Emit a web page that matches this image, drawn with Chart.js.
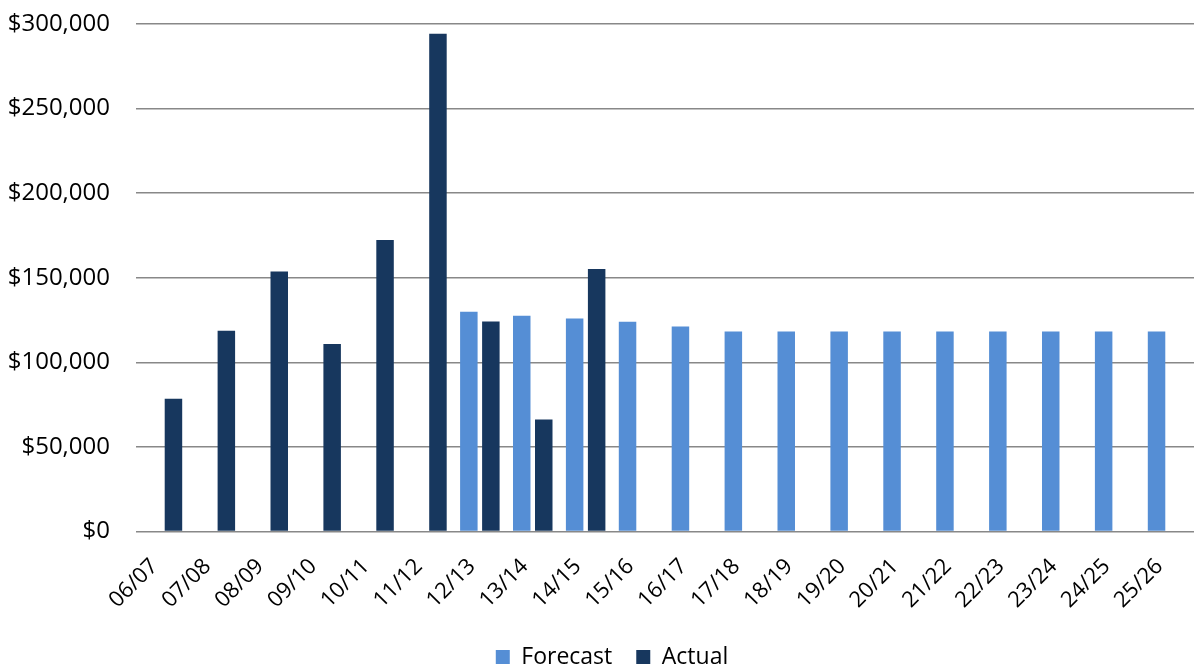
<!DOCTYPE html>
<html>
<head>
<meta charset="utf-8">
<script src="https://cdn.jsdelivr.net/npm/chart.js@4/dist/chart.umd.min.js"></script>
<style>
  html, body { margin: 0; padding: 0; background: #ffffff; }
  #wrap { width: 1195px; height: 669px; position: relative; }
</style>
</head>
<body>
<div id="wrap"><canvas id="c" width="1195" height="669"></canvas></div>
<script>
// Financial years shown on the horizontal axis
const years = ['06/07','07/08','08/09','09/10','10/11','11/12','12/13','13/14','14/15','15/16',
               '16/17','17/18','18/19','19/20','20/21','21/22','22/23','23/24','24/25','25/26'];

// Forecast spend per year (no forecast before 12/13)
const forecast = [null, null, null, null, null, null, 129900, 127500, 125900, 124000,
                  121200, 118200, 118200, 118200, 118200, 118200, 118200, 118200, 118200, 118200];

// Actual spend per year (recorded up to 14/15)
const actual = [78400, 118600, 153700, 110800, 172300, 294200, 124100, 66200, 155100, null,
                null, null, null, null, null, null, null, null, null, null];

// Value axis ticks
const yTicks = [0, 50000, 100000, 150000, 200000, 250000, 300000];

const FONT = '"Open Sans", "Liberation Sans", sans-serif';

// Nudge the legend block a little to the right of the canvas centre
const legendShift = {
  id: 'legendShift',
  afterLayout(chart) {
    const lg = chart.legend;
    if (lg) { lg.left += 15; lg.right += 15; }
  }
};

new Chart(document.getElementById('c'), {
  type: 'bar',
  data: {
    labels: years,
    datasets: [
      { label: 'Forecast', data: forecast, backgroundColor: '#558ED5',
        categoryPercentage: 0.832, barPercentage: 0.795 },
      { label: 'Actual', data: actual, backgroundColor: '#17375E',
        categoryPercentage: 0.832, barPercentage: 0.795 }
    ]
  },
  plugins: [legendShift],
  options: {
    responsive: false,
    animation: false,
    layout: { padding: { top: 24, right: 1, left: 0, bottom: -9.5 } },
    plugins: {
      tooltip: { enabled: false },
      legend: {
        position: 'bottom',
        labels: {
          color: '#000000',
          font: { family: FONT, size: 23 },
          boxWidth: 14, boxHeight: 14,
          padding: 24
        }
      }
    },
    scales: {
      x: {
        afterFit: (s) => { s.height = 90; s.paddingLeft = 0; s.paddingRight = 0; },
        grid: { display: false, drawTicks: false },
        border: { display: false },
        ticks: {
          color: '#000000',
          font: { family: FONT, size: 22 },
          maxRotation: 45, minRotation: 45,
          padding: 22,
          labelOffset: -8,
          autoSkip: false
        }
      },
      y: {
        min: 0, max: 300000,
        afterBuildTicks: (s) => { s.ticks = yTicks.map(v => ({ value: v })); },
        afterFit: (s) => { s.width = 136; s.paddingTop = 0; s.paddingBottom = 0; },
        grid: { color: '#888888', lineWidth: 1.5, drawTicks: false },
        border: { display: false },
        ticks: {
          color: '#000000',
          font: { family: FONT, size: 24 },
          padding: 26,
          callback: (v) => '$' + Number(v).toLocaleString('en-US')
        }
      }
    }
  }
});
</script>
</body>
</html>
